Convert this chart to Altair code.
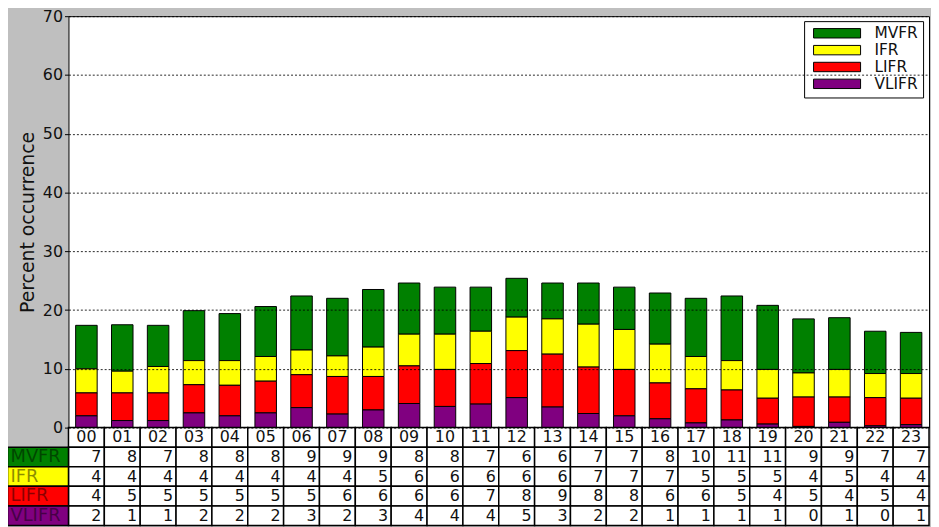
import altair as alt
import pandas as pd

# ---------------- data ----------------
hours = [f"{h:02d}" for h in range(24)]
categories = ["MVFR", "IFR", "LIFR", "VLIFR"]
colors = ["#008000", "#ffff00", "#ff0000", "#800080"]

# bar segment heights (percent occurrence)
vlifr = [2.0, 1.2, 1.2, 2.5, 2.0, 2.5, 3.4, 2.3, 3.0, 4.1, 3.6, 4.0,
         5.1, 3.5, 2.4, 2.0, 1.5, 0.8, 1.3, 0.6, 0.2, 0.9, 0.3, 0.5]
lifr = [3.9, 4.7, 4.7, 4.8, 5.2, 5.4, 5.6, 6.4, 5.7, 6.4, 6.3, 6.9,
        8.0, 9.0, 7.9, 7.9, 6.1, 5.8, 5.1, 4.4, 5.0, 4.3, 4.8, 4.5]
ifr = [4.1, 3.7, 4.5, 4.1, 4.2, 4.2, 4.2, 3.5, 5.0, 5.4, 6.0, 5.5,
       5.7, 6.0, 7.3, 6.8, 6.6, 5.5, 5.0, 4.9, 4.1, 4.7, 4.1, 4.2]
mvfr = [7.4, 7.9, 7.0, 8.5, 8.0, 8.5, 9.2, 9.8, 9.8, 8.7, 8.0, 7.5,
        6.6, 6.1, 7.0, 7.2, 8.7, 9.9, 11.0, 10.9, 9.2, 8.8, 7.2, 7.0]

# values printed in the table under the chart
tbl_mvfr = [7, 8, 7, 8, 8, 8, 9, 9, 9, 8, 8, 7, 6, 6, 7, 7, 8, 10, 11, 11, 9, 9, 7, 7]
tbl_ifr = [4, 4, 4, 4, 4, 4, 4, 4, 5, 6, 6, 6, 6, 6, 7, 7, 7, 5, 5, 5, 4, 5, 4, 4]
tbl_lifr = [4, 5, 5, 5, 5, 5, 5, 6, 6, 6, 6, 7, 8, 9, 8, 8, 6, 6, 5, 4, 5, 4, 5, 4]
tbl_vlifr = [2, 1, 1, 2, 2, 2, 3, 2, 3, 4, 4, 4, 5, 3, 2, 2, 1, 1, 1, 1, 0, 1, 0, 1]

y_ticks = [0, 10, 20, 30, 40, 50, 60, 70]

# ---------------- tables for the library ----------------
series = {"MVFR": mvfr, "IFR": ifr, "LIFR": lifr, "VLIFR": vlifr}
table_vals = {"MVFR": tbl_mvfr, "IFR": tbl_ifr, "LIFR": tbl_lifr, "VLIFR": tbl_vlifr}
stack_rank = {"VLIFR": 0, "LIFR": 1, "IFR": 2, "MVFR": 3}

bar_rows = []
for cat in categories:
    for i, v in enumerate(series[cat]):
        bar_rows.append({"i": i, "hour": hours[i], "cat": cat, "value": v, "rank": stack_rank[cat]})
bars_df = pd.DataFrame(bar_rows)

cell_rows = []
for i, h in enumerate(hours):
    cell_rows.append({"i": i, "r": 0, "text": h, "kind": "head"})
for r, cat in enumerate(categories, start=1):
    for i, v in enumerate(table_vals[cat]):
        cell_rows.append({"i": i, "r": r, "text": str(v), "kind": "val"})
cells_df = pd.DataFrame(cell_rows)

label_df = pd.DataFrame({"cat": categories, "r": [1, 2, 3, 4]})

ROW = 3.33     # table row height in y units
LABW = 1.7     # width of the row-label column in x units
FONT = "DejaVu Sans"

xscale = alt.Scale(domain=[0, 24], nice=False, zero=False)
yscale = alt.Scale(domain=[0, 70], nice=False, zero=False)
YTITLE = "Percent occurrence"

yaxis = alt.Axis(
    values=y_ticks, grid=True, gridDash=[2, 2], gridColor="black", gridWidth=1,
    gridOpacity=0.85, zindex=1, domain=False, ticks=True, tickSize=4,
    tickColor="black", labelFont=FONT, labelFontSize=16, labelColor="#111111",
    labelPadding=2, title=YTITLE, titleFont=FONT, titleFontSize=19,
    titleFontWeight="normal", titleColor="#111111", titlePadding=5,
)

legend = alt.Legend(
    title=None, orient="none", legendX=742, legendY=5,
    padding=4.5, strokeColor="black", fillColor="white",
    symbolType="M-5,-1H5V1H-5Z", symbolSize=90, symbolStrokeColor="black",
    symbolStrokeWidth=1, symbolOffset=21, labelOffset=30,
    labelFont=FONT, labelFontSize=15.5, labelColor="#111111", rowPadding=0,
    labelExpr="datum.label + '   '",
)

bars = (
    alt.Chart(bars_df)
    .transform_stack(stack="value", groupby=["i"], as_=["y0", "y1"],
                     sort=[alt.SortField("rank", order="ascending")])
    .transform_calculate(x0="datum.i + 0.2", x1="datum.i + 0.8")
    .mark_bar(stroke="black", strokeWidth=1)
    .encode(
        x=alt.X("x0:Q", scale=xscale, axis=None),
        x2="x1:Q",
        y=alt.Y("y0:Q", scale=yscale, axis=yaxis),
        y2="y1:Q",
        color=alt.Color("cat:N", scale=alt.Scale(domain=categories, range=colors), legend=legend),
    )
)

cells = (
    alt.Chart(cells_df)
    .transform_calculate(
        cx0="datum.i", cx1="datum.i + 1",
        cy0=f"-datum.r * {ROW}", cy1=f"-(datum.r + 1) * {ROW}",
    )
    .mark_rect(fill="white", stroke="black", strokeWidth=1.5)
    .encode(
        x=alt.X("cx0:Q", scale=xscale, axis=None), x2="cx1:Q",
        y=alt.Y("cy0:Q", scale=yscale, title=YTITLE), y2="cy1:Q",
    )
)

head_text = (
    alt.Chart(cells_df)
    .transform_filter("datum.kind == 'head'")
    .transform_calculate(tx="datum.i + 0.5", ty=f"-(datum.r + 0.5) * {ROW}")
    .mark_text(font=FONT, fontSize=16, color="#111111", align="center", baseline="middle")
    .encode(
        x=alt.X("tx:Q", scale=xscale, axis=None),
        y=alt.Y("ty:Q", scale=yscale, title=YTITLE),
        text="text:N",
    )
)

val_text = (
    alt.Chart(cells_df)
    .transform_filter("datum.kind == 'val'")
    .transform_calculate(tx="datum.i + 1", ty=f"-(datum.r + 0.5) * {ROW}")
    .mark_text(font=FONT, fontSize=16, color="#111111", align="right", baseline="middle", dx=-3)
    .encode(
        x=alt.X("tx:Q", scale=xscale, axis=None),
        y=alt.Y("ty:Q", scale=yscale, title=YTITLE),
        text="text:N",
    )
)

label_cells = (
    alt.Chart(label_df)
    .transform_calculate(lx0=f"-{LABW}", lx1="0",
                         cy0=f"-datum.r * {ROW}", cy1=f"-(datum.r + 1) * {ROW}")
    .mark_rect(stroke="black", strokeWidth=1.5)
    .encode(
        x=alt.X("lx0:Q", scale=xscale, axis=None), x2="lx1:Q",
        y=alt.Y("cy0:Q", scale=yscale, title=YTITLE), y2="cy1:Q",
        fill=alt.Fill("cat:N", scale=alt.Scale(domain=categories, range=colors), legend=None),
    )
)

label_text = (
    alt.Chart(label_df)
    .transform_calculate(lx=f"-{LABW}", ty=f"-(datum.r + 0.5) * {ROW}")
    .mark_text(font=FONT, fontSize=18, color="black", opacity=0.45,
               align="left", baseline="middle", dx=3)
    .encode(
        x=alt.X("lx:Q", scale=xscale, axis=None),
        y=alt.Y("ty:Q", scale=yscale, title=YTITLE),
        text="cat:N",
    )
)

chart = (
    alt.layer(bars, cells, label_cells, head_text, val_text, label_text)
    .properties(
        width=868, height=415,
        autosize=alt.AutoSizeParams(type="none"),
        padding={"left": 61, "top": 6, "right": 2, "bottom": 98},
        background="#bfbfbf",
    )
    .configure_view(fill="white", stroke="black", strokeWidth=1)
)

chart.save("out.html", embed_options={"renderer": "svg", "actions": False})
